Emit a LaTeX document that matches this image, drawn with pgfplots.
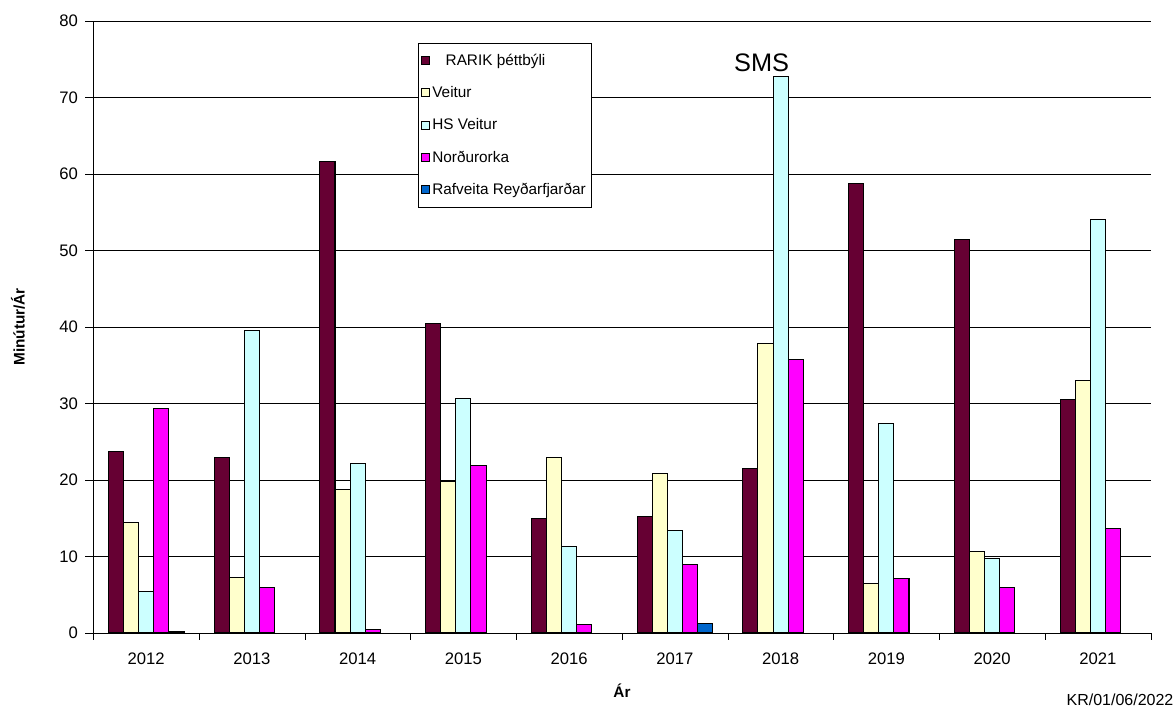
\documentclass[border=0pt]{standalone}
\usepackage{pgfplots}
\pgfplotsset{compat=1.18}
\usepackage{fontspec}
\setmainfont{Liberation Sans}
\setsansfont{Liberation Sans}
\definecolor{rarik}{HTML}{660033}
\definecolor{veitur}{HTML}{FFFFCC}
\definecolor{hsveitur}{HTML}{CCFFFF}
\definecolor{nordur}{HTML}{FF00FF}
\definecolor{rafveita}{HTML}{0066CC}
\begin{document}
\begin{tikzpicture}[x=1pt,y=1pt]
\begin{axis}[
 scale only axis,width=793pt,height=459pt,
 xmin=-0.5,xmax=9.5,ymin=0,ymax=80,
 ybar=0pt,bar width=0.1429,
 axis x line*=bottom,axis y line*=left,
 axis line style={black,thin,-},
 ymajorgrids,grid style={black,thin},
 ytick={0,10,...,80},
 xtick={0,...,9},
 xticklabels={2012,2013,2014,2015,2016,2017,2018,2019,2020,2021},
 major x tick style={draw=none},
 extra x ticks={-0.5,0.5,...,9.5},extra x tick labels={},
 extra x tick style={major x tick style={draw=black},tick align=outside,major tick length=5pt},
 y tick style={black},tick align=outside,major tick length=6pt,
 ticklabel style={font=\fontsize{12.5}{14}\selectfont},
 /pgf/number format/assume math mode=true,
 xticklabel style={yshift=-5pt},
 yticklabel style={xshift=-2pt},
 xlabel={\bfseries Ár},ylabel={\bfseries Minútur/Ár},
 label style={font=\fontsize{11.5}{13}\selectfont},
 xlabel style={yshift=3pt},
 ylabel style={yshift=19pt},
 legend style={at={(0.307,0.964)},anchor=north west,draw=black,thin,
   font=\fontsize{11.5}{13}\selectfont,row sep=10.3pt,
   inner xsep=2pt,inner ysep=6pt,cells={anchor=west}},
 legend image code/.code={\draw[#1,draw=black,line width=0.6pt] (0pt,-3pt) rectangle (6pt,3pt);},
 every axis plot/.append style={draw=black,line width=0.8pt},
 clip=false]
\addplot[fill=rarik] coordinates {(0,23.7) (1,22.9) (2,61.6) (3,40.5) (4,15.0) (5,15.2) (6,21.5) (7,58.8) (8,51.4) (9,30.5)};
\addplot[fill=veitur] coordinates {(0,14.5) (1,7.3) (2,18.7) (3,19.8) (4,23.0) (5,20.8) (6,37.8) (7,6.5) (8,10.6) (9,33.0)};
\addplot[fill=hsveitur] coordinates {(0,5.4) (1,39.6) (2,22.2) (3,30.6) (4,11.3) (5,13.4) (6,72.7) (7,27.4) (8,9.7) (9,54.0)};
\addplot[fill=nordur] coordinates {(0,29.3) (1,5.9) (2,0.5) (3,21.9) (4,1.1) (5,8.9) (6,35.8) (7,7.1) (8,5.9) (9,13.7)};
\addplot[fill=rafveita] coordinates {(0,0.2) (5,1.3)};
\legend{\hspace{10pt}RARIK þéttbýli,Veitur,HS Veitur,Norðurorka,Rafveita Reyðarfjarðar}
\node[font=\fontsize{19}{21}\selectfont] at (axis cs:5.82,74.6) {SMS};
\end{axis}
\node[font=\fontsize{12}{14}\selectfont] at (770pt,-50pt) {KR/01/06/2022};
\pgfresetboundingbox
\path (-70pt,-58.5pt) rectangle (810.5pt,474.75pt);
\end{tikzpicture}
\end{document}
